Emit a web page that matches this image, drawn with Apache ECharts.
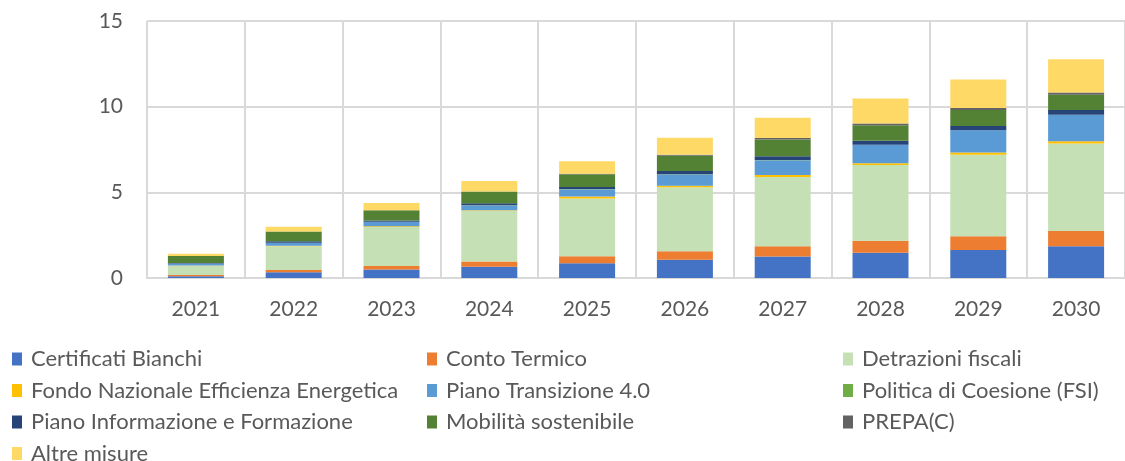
<!DOCTYPE html>
<html>
<head>
<meta charset="utf-8">
<script src="https://cdn.jsdelivr.net/npm/echarts@6/dist/echarts.min.js"></script>
<style>
  html, body { margin: 0; padding: 0; background: #fff; }
  #chart { width: 1125px; height: 461px; }
</style>
</head>
<body>
<div id="chart"></div>
<script>
// Years on the category axis
const years = ['2021', '2022', '2023', '2024', '2025', '2026', '2027', '2028', '2029', '2030'];

// Savings per measure (stacked, in the order they pile up)
const certificatiBianchi   = [0.10, 0.33, 0.49, 0.65, 0.86, 1.06, 1.25, 1.47, 1.64, 1.85];
const contoTermico         = [0.08, 0.14, 0.21, 0.31, 0.41, 0.50, 0.60, 0.70, 0.79, 0.90];
const detrazioniFiscali    = [0.54, 1.38, 2.28, 2.96, 3.37, 3.74, 4.04, 4.43, 4.77, 5.10];
const fondoNazionale       = [0.01, 0.03, 0.04, 0.04, 0.11, 0.09, 0.12, 0.10, 0.12, 0.13];
const pianoTransizione     = [0.11, 0.17, 0.25, 0.27, 0.43, 0.65, 0.86, 1.07, 1.30, 1.54];
const politicaCoesione     = [0.01, 0.01, 0.01, 0.01, 0.01, 0.01, 0.01, 0.01, 0.01, 0.01];
const pianoInformazione    = [0.03, 0.09, 0.07, 0.13, 0.12, 0.19, 0.23, 0.23, 0.24, 0.27];
const mobilitaSostenibile  = [0.41, 0.57, 0.60, 0.68, 0.74, 0.90, 0.98, 0.90, 0.93, 0.90];
const prepa                = [0.00, 0.00, 0.00, 0.00, 0.04, 0.06, 0.08, 0.11, 0.12, 0.13];
const altreMisure          = [0.12, 0.27, 0.43, 0.61, 0.72, 0.99, 1.19, 1.45, 1.67, 1.94];

// Value axis ticks
const yMin = 0, yMax = 15, yStep = 5;

const seriesDefs = [
  { name: 'Certificati Bianchi', data: certificatiBianchi, color: '#4472C4' },
  { name: 'Conto Termico', data: contoTermico, color: '#ED7D31' },
  { name: 'Detrazioni fiscali', data: detrazioniFiscali, color: '#C5E0B4' },
  { name: 'Fondo Nazionale Efficienza Energetica', data: fondoNazionale, color: '#FFC000' },
  { name: 'Piano Transizione 4.0', data: pianoTransizione, color: '#5B9BD5' },
  { name: 'Politica di Coesione (FSI)', data: politicaCoesione, color: '#70AD47' },
  { name: 'Piano Informazione e Formazione', data: pianoInformazione, color: '#264478' },
  { name: 'Mobilità sostenibile', data: mobilitaSostenibile, color: '#548235' },
  { name: 'PREPA(C)', data: prepa, color: '#636363' },
  { name: 'Altre misure', data: altreMisure, color: '#FFD966' }
];

const FONT = 'Lato, "Liberation Sans", sans-serif';
const TEXT_COLOR = '#595959';
const GRID_COLOR = '#d9d9d9';

// One vertical legend per column, so the entries line up in a 3-column grid
function legendColumn(left, names) {
  return {
    orient: 'vertical',
    left: left,
    top: 348,
    height: 200,
    padding: 0,
    itemWidth: 10,
    itemHeight: 13,
    itemGap: 9.5,
    icon: 'rect',
    selectedMode: false,
    data: names,
    textStyle: {
      fontFamily: FONT,
      fontSize: 22,
      color: TEXT_COLOR,
      lineHeight: 22,
      padding: [0, 0, 0, 4]
    }
  };
}

const chart = echarts.init(document.getElementById('chart'), null, { renderer: 'canvas' });

chart.setOption({
  animation: false,
  backgroundColor: '#ffffff',
  grid: { left: 147, right: -12, top: 21, bottom: 183, containLabel: false },
  legend: [
    legendColumn(12, ['Certificati Bianchi', 'Fondo Nazionale Efficienza Energetica', 'Piano Informazione e Formazione', 'Altre misure']),
    legendColumn(427, ['Conto Termico', 'Piano Transizione 4.0', 'Mobilità sostenibile']),
    legendColumn(843, ['Detrazioni fiscali', 'Politica di Coesione (FSI)', 'PREPA(C)'])
  ],
  xAxis: {
    type: 'category',
    data: years,
    boundaryGap: true,
    axisLine: { show: true, lineStyle: { color: GRID_COLOR, width: 2 } },
    axisTick: { show: false },
    splitLine: { show: true, lineStyle: { color: GRID_COLOR, width: 2 } },
    axisLabel: { fontFamily: FONT, fontSize: 21, color: TEXT_COLOR, margin: 21 }
  },
  yAxis: {
    type: 'value',
    min: yMin,
    max: yMax,
    interval: yStep,
    axisLine: { show: false },
    axisTick: { show: false },
    splitLine: { show: true, lineStyle: { color: GRID_COLOR, width: 2 } },
    axisLabel: { fontFamily: FONT, fontSize: 21, color: TEXT_COLOR, margin: 24 }
  },
  series: seriesDefs.map(s => ({
    name: s.name,
    type: 'bar',
    stack: 'total',
    barWidth: 56,
    data: s.data,
    itemStyle: { color: s.color },
    emphasis: { disabled: true }
  }))
});
</script>
</body>
</html>
